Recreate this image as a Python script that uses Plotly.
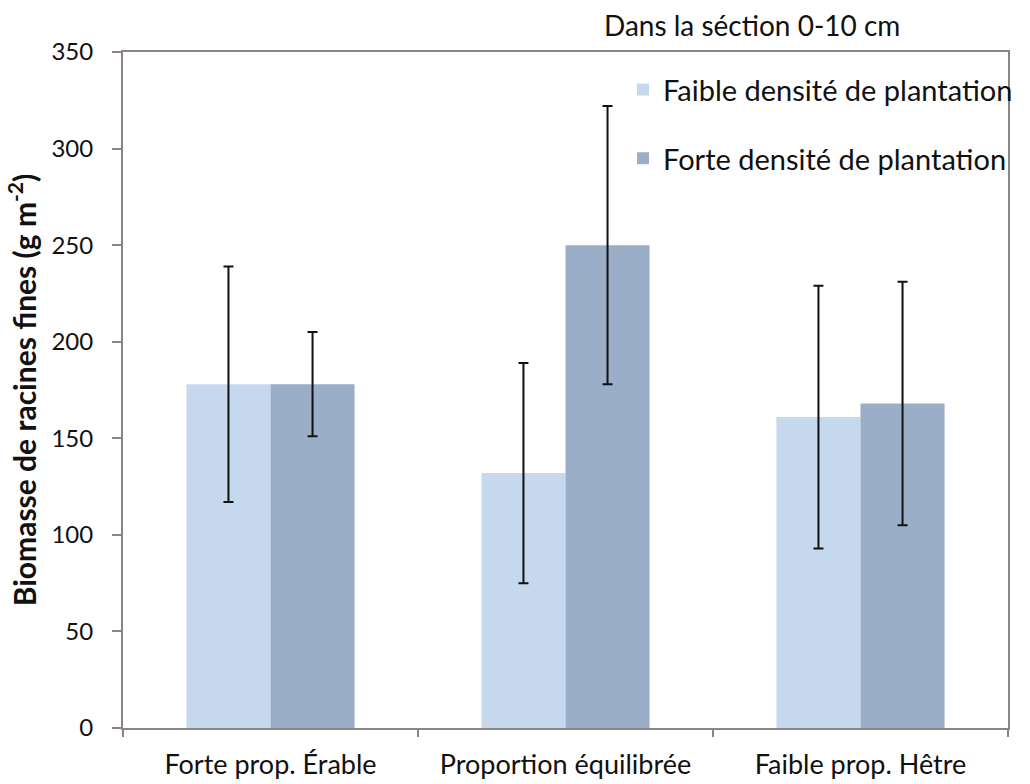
import plotly.graph_objects as go

# Fine-root biomass in the 0-10 cm layer, by species mix and planting density
categories = ["Forte prop. Érable", "Proportion équilibrée", "Faible prop. Hêtre"]
faible_vals = [178, 132, 161]
faible_err = [61, 57, 68]
forte_vals = [178, 250, 168]
forte_err = [27, 72, 63]
y_ticks = [0, 50, 100, 150, 200, 250, 300, 350]

FONT = "Lato"
TEXT_COLOR = "#111111"
AXIS_COLOR = "#8c8383"

fig = go.Figure()
fig.add_trace(go.Bar(
    name="Faible densité de plantation",
    x=categories, y=faible_vals,
    marker=dict(color="#c6d8ee", line=dict(width=0)),
    error_y=dict(type="data", array=faible_err, visible=True,
                 color="#111111", thickness=2, width=5),
    legendgroup="faible",
))
fig.add_trace(go.Bar(
    name="Forte densité de plantation",
    x=categories, y=forte_vals,
    marker=dict(color="#9baec8", line=dict(width=0)),
    error_y=dict(type="data", array=forte_err, visible=True,
                 color="#111111", thickness=2, width=5),
    legendgroup="forte",
))

fig.update_layout(
    width=1030, height=784,
    margin=dict(l=123, r=13, t=52, b=56),
    paper_bgcolor="white", plot_bgcolor="white",
    barmode="group", bargap=0.43, bargroupgap=0,
    font=dict(family=FONT, size=26, color=TEXT_COLOR),
    showlegend=True,
    legend=dict(
        x=0.565, y=0.982, xanchor="left", yanchor="top",
        bgcolor="rgba(0,0,0,0)", borderwidth=0,
        font=dict(family=FONT, size=29, color=TEXT_COLOR),
        traceorder="grouped", tracegroupgap=28,
    ),
    annotations=[dict(
        text="Dans la séction 0-10 cm",
        xref="paper", yref="paper", x=0.711, y=1.04,
        xanchor="center", yanchor="middle", showarrow=False,
        font=dict(family=FONT, size=28, color=TEXT_COLOR),
    )],
)

fig.update_xaxes(
    automargin=False,
    showline=True, linecolor=AXIS_COLOR, linewidth=2, mirror=True,
    ticks="outside", tickson="boundaries", ticklen=7, tickwidth=2,
    tickcolor=AXIS_COLOR, showgrid=False, ticklabelstandoff=12,
    tickfont=dict(family=FONT, size=27, color=TEXT_COLOR),
)
fig.update_yaxes(
    automargin=False,
    range=[0, 350], tickvals=y_ticks,
    showline=True, linecolor=AXIS_COLOR, linewidth=2, mirror=True,
    ticks="outside", ticklen=9, tickwidth=2, tickcolor=AXIS_COLOR,
    ticklabelstandoff=14,
    showgrid=False, zeroline=False,
    tickfont=dict(family=FONT, size=24, color=TEXT_COLOR),
    title=dict(text="<b>Biomasse de racines fines (g m<sup>-2</sup>)</b>",
               font=dict(family=FONT, size=30, color=TEXT_COLOR), standoff=6),
)

fig.write_html("out.html")
